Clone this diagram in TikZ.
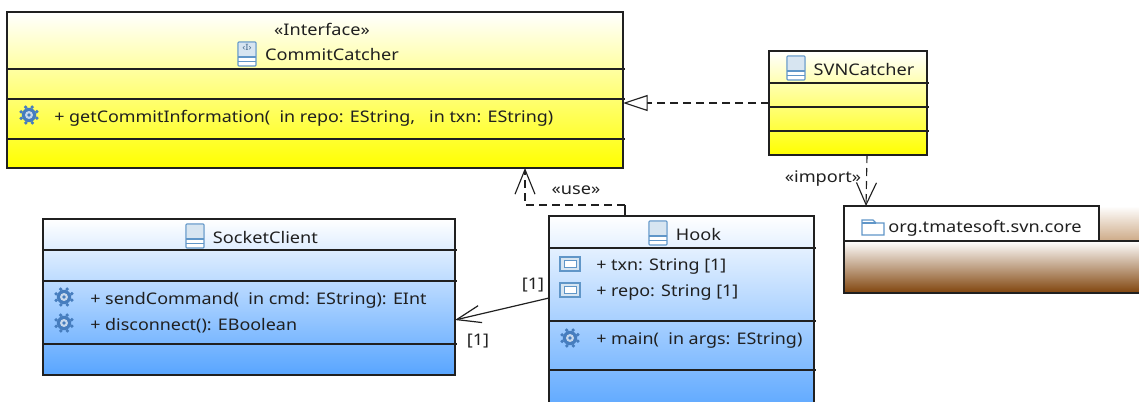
\documentclass[tikz,border=0pt]{standalone}
\usepackage{fontspec}
\setmainfont[FakeStretch=1.135]{Noto Sans}
\newfontfamily\memberfont[FakeStretch=1.12]{Noto Sans}
\usetikzlibrary{positioning,arrows.meta}
\definecolor{iconblue}{RGB}{96,150,200}
\definecolor{gearblue}{RGB}{70,125,190}
\definecolor{ink}{RGB}{32,32,32}
\definecolor{classblue}{RGB}{88,165,255}
\definecolor{pkgbrown}{RGB}{128,68,12}
\definecolor{pkgtan}{RGB}{205,170,135}

\begin{document}
\begin{tikzpicture}[x=.75pt,y=-.75pt,
			umlbox/.style 2 args={draw=ink,line width=.9pt,rectangle,inner sep=0pt,outer sep=0pt,minimum width=#1*.75pt,minimum height=#2*.75pt},
			yellowbox/.style={top color=white,bottom color=yellow},
			bluebox/.style={top color=white,bottom color=classblue},
			brownbox/.style={top color=white,bottom color=pkgbrown},
			txt/.style={text=ink,inner sep=0pt,font=\fontsize{12pt}{14pt}\selectfont},
			member/.style={txt,anchor=west,font=\fontsize{12pt}{14pt}\memberfont},
			compline/.style={draw=ink,line width=.9pt},
			dep/.style={draw=ink,line width=.85pt,dash pattern=on 6pt off 3.75pt},
			classicon/.pic={
				\draw[iconblue,fill=white,rounded corners=.6pt,line width=.8pt] (-9,-12) rectangle (9,12);
				\fill[iconblue!25] (-8,-11) rectangle (8,3);
				\draw[iconblue,line width=.8pt] (-9,3) -- (9,3) (-9,7.5) -- (9,7.5);
			},
			gearicon/.pic={
				\foreach \a in {0,45,...,315} \fill[gearblue] (\a+22:8.5) circle (1.9);
				\fill[gearblue] (0,0) circle (7.2);
				\fill[gearblue!30] (0,0) circle (4);
				\fill[gearblue] (0,0) circle (1.8);
			},
			attricon/.pic={
				\draw[iconblue,fill=iconblue!25,line width=.8pt] (-10,-7) rectangle (10,7);
				\draw[iconblue,fill=white,line width=.6pt] (-6,-3.5) rectangle (6,3.5);
			},
			foldericon/.pic={
				\draw[iconblue,fill=white,line width=.8pt] (-11,-7) -- (0,-7) -- (3,-4) -- (11,-4) -- (11,8) -- (-11,8) -- cycle;
				\draw[iconblue,line width=.8pt] (-11,-4) -- (3,-4);
			}]
			\useasboundingbox (0,0) rectangle (1139,401);
			\clip (0,0) rectangle (1139,401);

			% classes
			\node (commitcatcher) [umlbox={616}{156},yellowbox] at (315,90) {};
			\node (svncatcher) [umlbox={158}{104},yellowbox] at (848,103) {};
			\node (socketclient) [umlbox={412}{156},bluebox] at (249,297) {};
			\node (hook) [umlbox={265}{200},bluebox] at (681.5,316) {};

			\foreach \y in {69,99,139} \draw[compline] (commitcatcher.west |- 0,\y) -- ([xshift=1.5pt]commitcatcher.east |- 0,\y);
			\foreach \y in {83,107,131} \draw[compline] (svncatcher.west |- 0,\y) -- ([xshift=1.5pt]svncatcher.east |- 0,\y);
			\foreach \y in {250,281,344} \draw[compline] (socketclient.west |- 0,\y) -- ([xshift=1.5pt]socketclient.east |- 0,\y);
			\foreach \y in {248,321,370} \draw[compline] (hook.west |- 0,\y) -- ([xshift=1.5pt]hook.east |- 0,\y);

			% package
			\node (pkgback) [minimum width=40*.75pt,minimum height=35*.75pt,inner sep=0pt,outer sep=0pt,top color=white,bottom color=pkgtan] at (1119,223.5) {};
			\node (pkgbody) [umlbox={310}{52},brownbox] at (999,267) {};
			\node (pkgtab) [umlbox={255}{35},fill=white] at (971.5,223.5) {};

			% names
			\node (interfacelbl) [txt] at (322,29) {«Interface»};
			\node (commitname) [txt] at (332,54) {CommitCatcher};
			\pic at (247,54) {classicon};
			\node (iconmark) [text=iconblue!70!black,inner sep=0pt,font=\fontsize{6.5pt}{6.5pt}\selectfont\bfseries] at (247,47) {‹I›};
			\node (svnname) [txt] at (864,69) {SVNCatcher};
			\pic at (796,68) {classicon};
			\node (socketname) [txt] at (265.5,237) {SocketClient};
			\pic at (195,236) {classicon};
			\node (hookname) [txt] at (698.5,234) {Hook};
			\pic at (658,233) {classicon};
			\node (pkgname) [txt] at (985,228) {org.tmatesoft.svn.core};
			\pic at (873,227) {foldericon};

			% members
			\pic at (29,115) {gearicon};
			\node (getinfo) [member] at (54,118) {+ getCommitInformation(\ \ in repo: EString,\ \ \ in txn: EString)};
			\pic at (64,297) {gearicon};
			\node (sendcmd) [member] at (90,300) {+ sendCommand(\ \ in cmd: EString): EInt};
			\pic at (64,323) {gearicon};
			\node (disconn) [member] at (90,326) {+ disconnect(): EBoolean};
			\pic at (570,264) {attricon};
			\node (txnattr) [member] at (596,267) {+ txn: String [1]};
			\pic at (570,290) {attricon};
			\node (repoattr) [member] at (596,293) {+ repo: String [1]};
			\pic at (570,338) {gearicon};
			\node (mainop) [member] at (596,341) {+ main(\ \ in args: EString)};

			% connectors
			\draw[dep,-{Triangle[open,length=18.5pt,width=12pt,fill=white]}] (svncatcher.west) -- (svncatcher.west -| commitcatcher.east);
			\draw[dep,-{Straight Barb[length=16.5pt,width=15pt]}] ([xshift=14.25pt]svncatcher.south) -- ([xshift=-79.1pt]pkgtab.north);
			\coordinate (usebend) at (hook.north |- 0,205);
			\draw[compline] ([xshift=-42.4pt]hook.north) -- ([xshift=-42.4pt]usebend);
			\draw[dep,-{Straight Barb[length=18.5pt,width=15pt]}] ([xshift=-42.4pt]usebend) -| ([xshift=157.5pt]commitcatcher.south);
			\draw[compline,-{Straight Barb[length=18pt,width=13pt]}] (hook.west |- 0,298) -- (socketclient.east |- 0,320);

			% labels
			\node (uselbl) [txt] at (576,190) {«use»};
			\node (importlbl) [txt] at (823,179) {«import»};
			\node (hookend) [txt] at (533,285) {[1]};
			\node (socketend) [txt] at (478,341) {[1]};
		\end{tikzpicture}
\end{document}
